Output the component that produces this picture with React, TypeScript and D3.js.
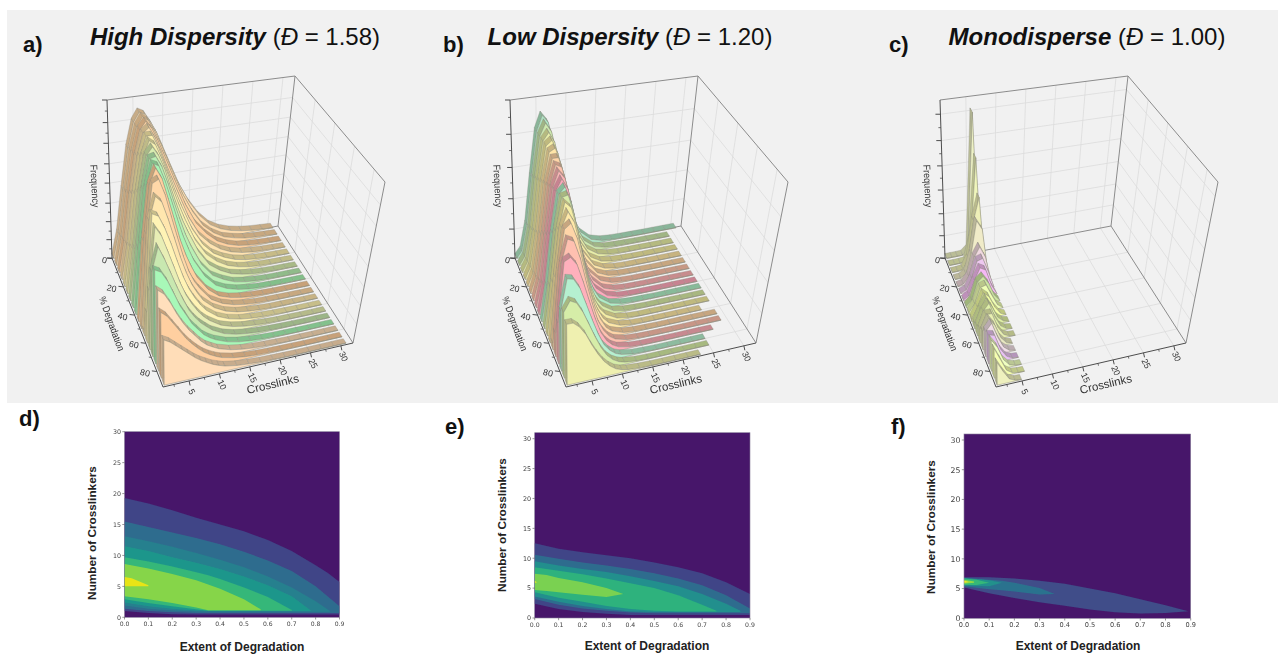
import React from "react";
import * as d3 from "d3";

// ---------- 3D waterfall data (frequency as % of the axis height) ----------
const degradationLevels = [0,5,10,15,20,25,30,35,40,45,50,55,60,65,70,75,80,85,90];
const crossColumns = [1,2,3,4,5,6,7,8,9,10,11,13,15,17,19,21,23,25,27,29,31];
const crossColumnsMono = [1,2,3,4,5,6,7];

const highDispersityRows = [
[0,15,42,68,84,90,88,82,75,66,57,40,27,17,10,6,3.5,2,1,.5,0],
[0,17,45,70,85,91,88,81,73,64,55,38,25,15,9,5,3,1.5,.8,.4,0],
[0,19,48,72,87,92,87,79,70,61,52,35,22,14,8,4.5,2.3,1.2,.6,.3,0],
[0,21,52,75,89,92,85,76,66,57,48,31,19,12,7,3.8,2,1,.5,.2,0],
[0,24,56,79,91,91,83,73,63,53,44,28,17,10,6,3.2,1.6,.8,.4,.2,0],
[0,27,61,83,92,89,80,70,59,49,40,25,15,9,5,2.7,1.3,.6,.3,.1,0],
[0,31,66,87,92,86,77,65,54,44,36,22,12.5,7.5,4,2.2,1,.5,.2,.1,0],
[0,36,71,89,90,83,72,60,49,39,31,18,10,6,3,1.6,.8,.4,.2,.1,0],
[0,42,76,90,88,78,66,54,43,34,26,15,8,4.5,2.4,1.2,.6,.3,.1,0,0],
[0,48,81,91,84,71,58,45,35,27,20,11,5.5,3,1.6,.8,.4,.2,.1,0,0],
[0,56,86,88,78,64,51,39,29,22,17,9,5,2.7,1.4,.7,.4,.2,.1,0,0],
[3,68,82,78,67,55,43,33,25,19,14,8,4.4,2.4,1.3,.7,.3,.2,.1,0,0],
[18,76,74,66,56,45,35,27,21,16,12,6.8,3.8,2.1,1.1,.6,.3,.1,0,0,0],
[35,72,66,56,46,36,28,22,17,13,10,5.6,3.2,1.8,1,.5,.2,.1,0,0,0],
[50,64,56,47,38,30,23,18,14,11,8.2,4.6,2.6,1.5,.8,.4,.2,.1,0,0,0],
[55,53,47,39,31,25,19,15,11,8.5,6.5,3.7,2.1,1.2,.6,.3,.1,0,0,0,0],
[47,44,38,31,25,20,16,12,9,7,5.2,3,1.7,.9,.5,.3,.1,0,0,0,0],
[38,35,30,25,20,16,12.5,9.5,7.3,5.5,4,2.3,1.3,.7,.4,.2,.1,0,0,0,0],
[26,24,21,18,15,12,9.5,7.5,5.6,4.2,3,1.7,1,.5,.3,.1,0,0,0,0,0],
];

const lowDispersityRows = [
[0,4,20,50,78,88,83,68,50,35,23,9,3,1,.4,.2,.1,0,0,0,0],
[0,5,22,53,79,87,81,65,47,32,21,8,2.7,.9,.4,.2,.1,0,0,0],
[0,6,25,56,80,85,78,62,44,30,19,7,2.4,.8,.3,.1,.1,0,0,0],
[0,7,28,59,81,84,75,58,41,27,17,6,2,.7,.3,.1,0,0,0,0],
[0,8,31,62,81,83,72,55,38,24,15,5.3,1.8,.6,.2,.1,0,0,0,0],
[0,10,35,65,81,81,69,51,34,22,13,4.6,1.5,.5,.2,.1,0,0,0,0],
[0,12,39,68,81,79,65,47,31,19,11,4,1.3,.4,.1,0,0,0,0,0],
[0,14,43,71,81,76,61,43,28,17,10,3.4,1,.3,.1,0,0,0,0,0],
[0,17,47,73,80,73,57,39,25,15,9,3,.9,.3,.1,0,0,0,0,0],
[0,21,52,75,79,69,52,35,22,13,7.5,2.5,.8,.2,.1,0,0,0,0,0],
[0,25,57,77,78,65,47,31,19,11,6.5,2,.6,.2,0,0,0,0,0,0],
[0,31,62,78,74,60,42,27,16,9.5,5.5,1.7,.5,.1,0,0,0,0,0,0],
[0,38,67,76,69,54,37,23,14,8,4.5,1.4,.4,.1,0,0,0,0,0],
[4,46,70,73,63,47,32,20,12,6.5,3.6,1.1,.3,.1,0,0,0,0,0,0],
[14,54,68,66,55,40,27,16,9.5,5.3,2.9,.9,.3,.1,0,0,0,0,0,0],
[24,59,61,56,45,33,22,13,7.5,4.2,2.3,.7,.2,.1,0,0,0,0,0],
[35,53,52,46,36,26,17,10,5.9,3.2,1.8,.5,.2,0,0,0,0,0],
[38,44,42,36,28,20,13,7.7,4.4,2.4,1.3,.4,.1,0,0,0,0,0],
[35,35,32,27,20,14,9,5.5,3,1.7,.9,.3,.1,0,0,0,0],
];

const monodisperseRows = [
[0,0,0,.2,3,90,1],
[0,0,.1,.5,14,65,.5],
[0,.1,.6,7,30,44,.3],
[0,.3,2,14,34,28,.2],
[.1,.8,5,16,22,15,.1],
[.2,1.5,8,18,19,10,0],
[.4,2.5,11,18,16,6,0],
[.7,4,14,17,12,4,0],
[1.2,6,15,16,9,2.5,0],
[2,8,16,13,6,1.5,0],
[3.5,11,17,11,4,1,0],
[5.5,14,18,9,3,.6,0],
[8,16,16,7,2,.3,0],
[11,18,13,5,1.2,.2],
[15,19,10,3.5,.8,.1],
[17,16,7,2.2,.4,0],
[18,13,5,1.2,.2,0],
[17,10,3,.7,.1,0],
[13,7,2,.4,.1],
];

const highDispersityColors = ["#FFDDB0","#FFD8A8","#FFD0A0","#FFE3B0","#FFF0B0","#F5F0B0","#D8EDB0","#B8F0B5","#A8F5B5","#FFCF9E","#FFD8A8","#FFE6AE","#FFF3B5","#E8EEB5","#C8E8B0","#A8F8B8","#FFDFBC","#FFCFA0","#FFDDB8"];
const lowDispersityColors = ["#B0E8C8","#CDE8AE","#E8EEA8","#F5EDA5","#FFE5A8","#FFD5A8","#FFC4AE","#FFB4B8","#FFA8BE","#AEEEC8","#D8EBA8","#F5EDA5","#FFE8A8","#FFD5A8","#FFC0B0","#FFB0BC","#B5F0D0","#D6EDA8","#EFF0B0"];
const monodisperseColors = ["#EEF2C5","#EFF5BB","#EEF0B8","#F0EBC8","#F0D8E0","#EEC8F0","#F5B8F5","#CCE8A0","#EFFFB5","#F3FFA5","#DFF0A5","#E0F0A8","#E8F0B0","#E8E8C0","#F0DDE8","#E8C0F5","#EFFFC0","#F5FFB0","#EEF0BE"];

const highZTicks = [0,11.6,23,34.7,47.4,59.6,72.6,85.7,100];
const lowZTicks = [0,18.3,37.5,57.3,78.3,100];
const monoZTicks = [0,14.1,28,43,58.3,74.3,91];
const zMinorHigh = [5.8,17,29,41,53.5,66,79,93];
const zMinorLow = [9,28,47.5,68,89];
const zMinorMono = [7,21,35.5,50.5,66,82.5];

const crossTicks = [5,10,15,20,25,30];
const crossMinor = [2.5,7.5,12.5,17.5,22.5,27.5];
const degTicks = [0,20,40,60,80];
const degMinor = [10,30,50,70];

// Box corners of the 3D frame: [c min/max][deg min/max][z min/max]
const boxCorners = [
  [[[112,258],[107,100]],[[163,387],[161,213]]],
  [[[278,226],[295,76]],[[353,343],[385,182]]],
];
const crossDomain = [0.7,32];
const degDomain = [-0.5,91];

// ---------- contour data: [extent, upper, lower] ----------
const dBand1 = [[0,19.3,1],[.1,18.4,.7],[.2,17.3,.5],[.3,16.1,.45],[.4,15,.45],[.5,13.9,.45],[.6,12.5,.45],[.7,10.7,.45],[.8,8.4,.45],[.85,7.2,.45],[.9,5.7,.45]];
const dBand2 = [[0,15.5,1.4],[.1,14.6,1],[.2,13.7,.8],[.3,12.8,.7],[.4,11.8,.7],[.5,10.6,.7],[.6,9.2,.7],[.7,7.5,.7],[.8,5,.7],[.85,3.4,.7],[.9,1.8,.7]];
const dBand3 = [[0,13.1,1.9],[.1,12.3,1.4],[.2,11.4,1.1],[.3,10.4,.95],[.4,9.3,.9],[.5,8.1,.9],[.6,6.6,.9],[.7,4.8,.9],[.8,2.6,.9],[.86,1,.9]];
const dBand4 = [[0,11.5,2.4],[.1,10.7,1.8],[.2,9.7,1.4],[.3,8.8,1.1],[.4,7.8,1],[.5,6.6,1],[.6,5.2,1],[.7,3.4,1],[.78,1.1,1]];
const dBand5 = [[0,9.7,2.9],[.1,9,2.3],[.2,8.2,1.8],[.3,7.3,1.3],[.35,6.8,1.05],[.4,6.2,1.05],[.5,4.8,1.05],[.6,3.3,1.05],[.7,1.2,1.05]];
const dBand6 = [[0,8.6,3.4],[.1,7.9,2.9],[.2,7,2.3],[.3,6,1.6],[.35,5.3,1.15],[.4,4.6,1.15],[.5,2.9,1.15],[.57,1.3,1.15]];
const dBand7 = [[0,6.5,5],[.03,6.3,5],[.1,5.2,5]];
const dFills = ["#414487","#2f6c8e","#26808e","#1f968b","#35b779","#86d549","#e8e419"];

const eBand1 = [[0,12.5,2.4],[.1,11.6,1.5],[.2,11,1],[.3,10.5,.7],[.4,10,.5],[.5,9.3,.5],[.6,8.5,.5],[.7,7.5,.5],[.8,6,.5],[.9,4,.5]];
const eBand2 = [[0,10.6,3.2],[.1,9.9,2.2],[.2,9.3,1.6],[.3,8.8,1.2],[.4,8.2,.9],[.5,7.5,.8],[.6,6.6,.8],[.7,5.5,.8],[.8,3.8,.8],[.9,1.6,.8]];
const eBand3 = [[0,9.5,3.6],[.1,8.8,2.7],[.2,8.2,2],[.3,7.7,1.5],[.4,7,1.1],[.5,6.2,1],[.6,5.3,1],[.7,4,1],[.8,2.4,1],[.86,1.2,1]];
const eBand4 = [[0,8.5,4.3],[.1,7.9,3.4],[.2,7.3,2.7],[.3,6.6,2],[.4,5.8,1.5],[.5,5,1.2],[.6,3.8,1.1],[.7,2.2,1.1],[.76,1.2,1.1]];
const eBand5 = [[0,7.4,4.7],[.05,7.2,4.5],[.1,6.7,4.3],[.2,6,3.9],[.3,5,3.5],[.37,4,4]];
const eBand6 = [[0,6.2,5.9],[.01,6,6]];
const eFills = ["#414487","#2f6c8e","#218f8d","#2db27d","#7ad151","#fde725"];

const fBand1 = [[0,6.9,5.2],[.1,6.9,4.2],[.2,6.7,3.4],[.3,6.3,2.7],[.4,5.8,2.1],[.5,5,1.5],[.6,4.2,1],[.7,3.2,.8],[.8,2.2,.9],[.89,1.2,1.2]];
const fBand2 = [[0,6.8,5.4],[.1,6.5,4.9],[.15,6.3,4.7],[.2,6,4.5],[.3,5.1,4],[.36,4.1,4.1]];
const fBand3 = [[0,6.8,5.5],[.1,6.4,5.4],[.15,6,6]];
const fBand4 = [[0,6.7,5.6],[.05,6.5,5.6],[.1,6,6]];
const fBand5 = [[0,6.5,5.8],[.04,6.2,6]];
const fBand6 = [[0,6.3,6],[.02,6.1,6.1]];
const fFills = ["#3f4d89","#2c728e","#21918c","#35b779","#8fd744","#fde725"];

const extentTicks = [0,.1,.2,.3,.4,.5,.6,.7,.8,.9];
const crosslinkerTicks = [0,5,10,15,20,25,30];

const SANS = "'Liberation Sans', Arial, sans-serif";
const DEJAVU = "'DejaVu Sans', sans-serif";

const lerp = (a: number, b: number, t: number) => a + (b - a) * t;
const polyLine = d3.line();

function makeProjector(dx: number) {
  const u = d3.scaleLinear().domain(crossDomain).range([0, 1]);
  const v = d3.scaleLinear().domain(degDomain).range([0, 1]);
  const w = d3.scaleLinear().domain([0, 100]).range([0, 1]);
  return (c: number, deg: number, z: number): [number, number] => {
    const tu = u(c), tv = v(deg), tw = w(z);
    const at = (k: number) =>
      lerp(
        lerp(lerp(boxCorners[0][0][0][k], boxCorners[0][0][1][k], tw), lerp(boxCorners[0][1][0][k], boxCorners[0][1][1][k], tw), tv),
        lerp(lerp(boxCorners[1][0][0][k], boxCorners[1][0][1][k], tw), lerp(boxCorners[1][1][0][k], boxCorners[1][1][1][k], tw), tv),
        tu
      );
    return [at(0) + dx, at(1)];
  };
}

const closed = (pts: [number, number][]) => polyLine(pts) + "Z";
const shade = (col: string, f: number) => {
  const c = d3.rgb(col);
  return d3.rgb(c.r * f, c.g * f, c.b * f * 0.98).formatHex();
};

function Waterfall({ dx, rows, colors, cols, zTicks, zMinor }: any) {
  const P = makeProjector(dx);
  const [cA, cB] = crossDomain;
  const [dA, dB] = degDomain;
  const ribbon = 3.5;
  const gridCol = "#dcdcdc";
  const frameCol = "#8c8c8c";
  const axisCol = "#4d4d4d";
  const seg = (a: [number, number], b: [number, number], stroke: string, sw: number, key: string) => (
    <line key={key} x1={a[0]} y1={a[1]} x2={b[0]} y2={b[1]} stroke={stroke} strokeWidth={sw} />
  );
  const zGrid = zTicks.slice(1).filter((z: number) => z < 100);
  return (
    <g filter="url(#soft)">
      {crossTicks.map((c) => seg(P(c, dA, 0), P(c, dA, 100), gridCol, 0.8, `bw${c}`))}
      {crossTicks.map((c) => seg(P(c, dA, 0), P(c, dB, 0), gridCol, 0.8, `fl${c}`))}
      {degTicks.slice(1).map((d) => seg(P(cA, d, 0), P(cB, d, 0), gridCol, 0.8, `fd${d}`))}
      {degTicks.slice(1).map((d) => seg(P(cB, d, 0), P(cB, d, 100), gridCol, 0.8, `rw${d}`))}
      {zGrid.map((z: number) => seg(P(cA, dA, z), P(cB, dA, z), gridCol, 0.8, `bz${z}`))}
      {zGrid.map((z: number) => seg(P(cB, dA, z), P(cB, dB, z), gridCol, 0.8, `rz${z}`))}
      {seg(P(cA, dA, 100), P(cB, dA, 100), frameCol, 1, "f1")}
      {seg(P(cB, dA, 0), P(cB, dA, 100), frameCol, 1, "f2")}
      {seg(P(cB, dA, 100), P(cB, dB, 100), frameCol, 1, "f3")}
      {seg(P(cB, dB, 0), P(cB, dB, 100), frameCol, 1, "f4")}
      {seg(P(cA, dA, 0), P(cB, dA, 0), frameCol, 1, "f5")}
      {seg(P(cB, dA, 0), P(cB, dB, 0), frameCol, 1, "f6")}

      {rows.map((row: number[], i: number) => {
        const deg = degradationLevels[i];
        const back = deg - ribbon;
        const col = colors[i];
        const dark = shade(col, 0.78);
        const xs: number[] = cols.slice(0, row.length);
        const top = row.map((z, k) => P(xs[k], deg, z));
        const last = xs.length - 1;
        return (
          <g key={deg}>
            <path d={closed([P(xs[0], back, 0), P(xs[0], deg, 0), P(xs[0], deg, row[0]), P(xs[0], back, row[0])])} fill={shade(col, 0.76)} stroke="#7d7d72" strokeWidth={0.4} />
            {row.slice(0, -1).map((z, k) => (
              <path
                key={k}
                d={closed([P(xs[k], deg, z), P(xs[k + 1], deg, row[k + 1]), P(xs[k + 1], back, row[k + 1]), P(xs[k], back, z)])}
                fill={dark}
                stroke="#85857a"
                strokeWidth={0.3}
              />
            ))}
            <path d={closed([P(xs[0], deg, 0), ...top, P(xs[last], deg, 0)])} fill={col} stroke="#8a8a7c" strokeWidth={0.45} />
          </g>
        );
      })}

      {seg(P(cA, dA, 0), P(cA, dA, 100), axisCol, 1, "az")}
      {seg(P(cA, dA, 0), P(cA, dB, 0), axisCol, 1, "ad")}
      {seg(P(cA, dB, 0), P(cB, dB, 0), axisCol, 1, "ac")}
      {zTicks.map((z: number) => { const p = P(cA, dA, z); return seg(p, [p[0] - 5, p[1]], axisCol, 1, `tz${z}`); })}
      {zMinor.map((z: number) => { const p = P(cA, dA, z); return seg(p, [p[0] - 2.5, p[1]], axisCol, 0.8, `mz${z}`); })}
      {degTicks.map((d) => { const p = P(cA, d, 0); return seg(p, [p[0] - 5, p[1] - 0.6], axisCol, 1, `td${d}`); })}
      {degMinor.map((d) => { const p = P(cA, d, 0); return seg(p, [p[0] - 2.5, p[1] - 0.3], axisCol, 0.8, `md${d}`); })}
      {crossTicks.map((c) => { const p = P(c, dB, 0); return seg(p, [p[0] + 1, p[1] + 4.5], axisCol, 1, `tc${c}`); })}
      {crossMinor.map((c) => { const p = P(c, dB, 0); return seg(p, [p[0] + 0.5, p[1] + 2.3], axisCol, 0.8, `mc${c}`); })}

      {degTicks.map((d) => {
        const p = P(cA, d, 0);
        const tx = p[0] - (d === 0 ? 8 : 12);
        const ty = p[1] + 2;
        return (
          <text key={d} transform={`translate(${tx},${ty}) rotate(12)`} textAnchor="middle" dominantBaseline="middle" fontFamily={SANS} fontSize={8.8} fill="#333">{d}</text>
        );
      })}
      {crossTicks.map((c) => {
        const p = P(c, dB, 0);
        return (
          <text key={c} transform={`translate(${p[0] + 2},${p[1] + 11}) rotate(65)`} textAnchor="middle" dominantBaseline="middle" fontFamily={SANS} fontSize={8.8} fill="#333">{c}</text>
        );
      })}
      <text transform={`translate(${94 + dx},186) rotate(87)`} textAnchor="middle" dominantBaseline="middle" fontFamily={SANS} fontSize={10} textLength={43} lengthAdjust="spacingAndGlyphs" fill="#333">Frequency</text>
      <text transform={`translate(${111 + dx},324) rotate(70)`} textAnchor="middle" dominantBaseline="middle" fontFamily={SANS} fontSize={10} textLength={57} lengthAdjust="spacingAndGlyphs" fill="#333">% Degradation</text>
      <text transform={`translate(${273 + dx},385) rotate(-13)`} textAnchor="middle" dominantBaseline="middle" fontFamily={SANS} fontSize={11.5} fill="#333">Crosslinks</text>
    </g>
  );
}

function Contour({ box, y30, bands, fills, xFont, yFont, yTitle, xTitle }: any) {
  const [x0, x1, yTop, y0] = box;
  const x = d3.scaleLinear().domain([0, 0.9]).range([x0, x1]);
  const y = d3.scaleLinear().domain([0, 30]).range([y0, y30]);
  const area = d3.area<number[]>().x((d) => x(d[0])).y0((d) => y(d[2])).y1((d) => y(d[1]));
  return (
    <g>
      <g filter="url(#soft)">
        <rect x={x0} y={yTop} width={x1 - x0} height={y0 - yTop} fill="#46186a" />
        {bands.map((b: number[][], i: number) => (
          <path key={i} d={area(b) as string} fill={fills[i]} />
        ))}
        <rect x={x0} y={yTop} width={x1 - x0} height={y0 - yTop} fill="none" stroke="#8a7f9c" strokeWidth={0.6} />
        {extentTicks.map((t) => (
          <line key={t} x1={x(t)} x2={x(t)} y1={y0} y2={y0 + 2.2} stroke="#555" strokeWidth={0.6} />
        ))}
        {crosslinkerTicks.map((t) => (
          <line key={t} x1={x0 - 2.2} x2={x0} y1={y(t)} y2={y(t)} stroke="#555" strokeWidth={0.6} />
        ))}
        {extentTicks.map((t) => (
          <text key={t} x={x(t)} y={y0 + 9} textAnchor="middle" fontFamily={DEJAVU} fontSize={xFont} fill="#444">{t.toFixed(1)}</text>
        ))}
        {crosslinkerTicks.map((t) => (
          <text key={t} x={x0 - 3.5} y={y(t) + yFont * 0.36} textAnchor="end" fontFamily={DEJAVU} fontSize={yFont} fill="#444">{t}</text>
        ))}
      </g>
      <text transform={`translate(${yTitle[0]},${yTitle[1]}) rotate(-90)`} textAnchor="middle" dominantBaseline="middle" fontFamily={SANS} fontWeight="bold" fontSize={11.8} fill="#222">Number of Crosslinkers</text>
      <text x={xTitle[0]} y={xTitle[1]} textAnchor="middle" dominantBaseline="middle" fontFamily={SANS} fontWeight="bold" fontSize={12} fill="#222">Extent of Degradation</text>
    </g>
  );
}

function Heading({ cx, name, value }: { cx: number; name: string; value: string }) {
  return (
    <text x={cx} y={45} textAnchor="middle" fontFamily={SANS} fontSize={24} fill="#111">
      <tspan fontWeight="bold" fontStyle="italic">{name}</tspan>
      <tspan> (</tspan>
      <tspan fontStyle="italic">Đ</tspan>
      <tspan> = {value})</tspan>
    </text>
  );
}

const panelLetters: [string, number, number][] = [
  ["a)", 23, 52], ["b)", 443, 52], ["c)", 889, 52],
  ["d)", 19, 426], ["e)", 445, 434], ["f)", 891, 434],
];

export default function App() {
  return (
    <svg width={1282} height={654} viewBox="0 0 1282 654" style={{ position: "absolute", left: 0, top: 0, display: "block", background: "#fff" }}>
      <defs>
        <filter id="soft" x="-5%" y="-5%" width="110%" height="110%">
          <feGaussianBlur stdDeviation="0.4" />
        </filter>
      </defs>
      <rect x={7} y={10} width={1271} height={393} fill="#f1f1f1" />
      <Heading cx={235} name="High Dispersity" value="1.58" />
      <Heading cx={630} name="Low Dispersity" value="1.20" />
      <Heading cx={1087} name="Monodisperse" value="1.00" />
      {panelLetters.map(([t, x, y]) => (
        <text key={t} x={x} y={y} fontFamily={SANS} fontWeight="bold" fontSize={22} fill="#111">{t}</text>
      ))}
      <Waterfall dx={0} rows={highDispersityRows} colors={highDispersityColors} cols={crossColumns} zTicks={highZTicks} zMinor={zMinorHigh} />
      <Waterfall dx={403} rows={lowDispersityRows} colors={lowDispersityColors} cols={crossColumns} zTicks={lowZTicks} zMinor={zMinorLow} />
      <Waterfall dx={833} rows={monodisperseRows} colors={monodisperseColors} cols={crossColumnsMono} zTicks={monoZTicks} zMinor={zMinorMono} />
      <Contour box={[124.5, 339.5, 431.7, 617.3]} y30={431.7} bands={[dBand1, dBand2, dBand3, dBand4, dBand5, dBand6, dBand7]} fills={dFills} xFont={6.1} yFont={6.3} yTitle={[93, 533]} xTitle={[242, 648]} />
      <Contour box={[534.7, 750, 432.7, 618]} y30={438.7} bands={[eBand1, eBand2, eBand3, eBand4, eBand5, eBand6]} fills={eFills} xFont={6.2} yFont={6.4} yTitle={[503, 525]} xTitle={[647, 647]} />
      <Contour box={[964, 1190.7, 434, 618.3]} y30={440} bands={[fBand1, fBand2, fBand3, fBand4, fBand5, fBand6]} fills={fFills} xFont={6.6} yFont={7.8} yTitle={[932, 527]} xTitle={[1078, 647]} />
    </svg>
  );
}
